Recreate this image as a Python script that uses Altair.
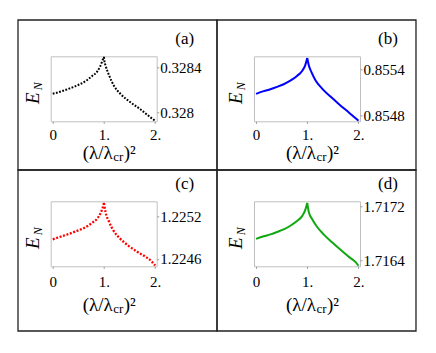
import altair as alt
import pandas as pd

# ---------------- data ----------------
# panel (a)
xa_left = [0, 0.16, 0.29, 0.42, 0.55, 0.68, 0.77, 0.87, 0.93, 0.98, 1.0]
ya_left = [0.328165, 0.328185, 0.328206, 0.328228, 0.328254, 0.328290, 0.328323, 0.328364, 0.328412, 0.328471, 0.328492]
xa_right = [1.0, 1.01, 1.03, 1.10, 1.19, 1.32, 1.51, 1.71, 1.90, 2.0]
ya_right = [0.328492, 0.328453, 0.328418, 0.328329, 0.328240, 0.328165, 0.328092, 0.328027, 0.327958, 0.327925]
a_ticks = [0.328, 0.3284]
a_domain = [0.32792, 0.328498]

# panel (b)
xb_left = [0, 0.15, 0.28, 0.41, 0.54, 0.67, 0.80, 0.90, 0.96, 1.0]
yb_left = [0.855078, 0.855113, 0.855139, 0.855169, 0.855204, 0.855251, 0.855313, 0.855378, 0.855452, 0.855547]
xb_right = [1.0, 1.03, 1.08, 1.16, 1.29, 1.46, 1.62, 1.78, 1.91, 2.0]
yb_right = [0.855547, 0.855452, 0.855365, 0.855257, 0.855147, 0.855039, 0.854943, 0.854852, 0.854778, 0.854725]
b_ticks = [0.8548, 0.8554]
b_domain = [0.854718, 0.85557]

# panel (c)
xc_left = [0, 0.16, 0.29, 0.42, 0.55, 0.68, 0.77, 0.87, 0.93, 0.97, 1.0]
yc_left = [1.224875, 1.224913, 1.224944, 1.224978, 1.225014, 1.225061, 1.225107, 1.225167, 1.225236, 1.225306, 1.225385]
xc_right = [1.0, 1.03, 1.10, 1.19, 1.32, 1.48, 1.64, 1.80, 1.93, 2.0]
yc_right = [1.225385, 1.225260, 1.225121, 1.224992, 1.224881, 1.224783, 1.224704, 1.224635, 1.224565, 1.224506]
c_ticks = [1.2246, 1.2252]
c_domain = [1.224496, 1.225408]

# panel (d)
xd_left = [0, 0.15, 0.28, 0.41, 0.54, 0.67, 0.80, 0.90, 0.96, 1.0]
yd_left = [1.716717, 1.716756, 1.716785, 1.716821, 1.716859, 1.716914, 1.716984, 1.717058, 1.717147, 1.717255]
xd_right = [1.0, 1.03, 1.10, 1.19, 1.32, 1.49, 1.65, 1.82, 1.95, 2.0]
yd_right = [1.717255, 1.717121, 1.717007, 1.716899, 1.716785, 1.716662, 1.716554, 1.716444, 1.716366, 1.716315]
d_ticks = [1.7164, 1.7172]
d_domain = [1.716307, 1.71728]

x_ticks = [0, 1, 2]
x_domain = [-0.04, 2.03]
panel_labels = ["(a)", "(b)", "(c)", "(d)"]

SERIF = "'Liberation Serif', 'Times New Roman', 'DejaVu Serif', serif"
W, H = 106, 65


def panel(xl, yl, xr, yr, dom, ticks, color, dash, sw, label, border, title_y, label_pad):
    df = pd.DataFrame({
        "x": xl + xr,
        "y": yl + yr,
        "branch": ["L"] * len(xl) + ["R"] * len(xr),
    })
    kw = dict(color=color, strokeWidth=sw, interpolate="monotone", strokeCap="butt")
    if dash:
        kw["strokeDash"] = dash
    line = alt.Chart(df).mark_line(**kw).encode(
        x=alt.X("x:Q",
                scale=alt.Scale(domain=x_domain, nice=False, zero=False),
                axis=alt.Axis(values=x_ticks,
                              labelExpr="datum.value == 0 ? '0' : datum.value + '.'",
                              title=None, grid=False, domain=False,
                              tickSize=2, tickColor="#999999",
                              labelFont=SERIF, labelFontSize=15, labelColor="black",
                              labelPadding=label_pad, labelFlush=False,
                              labelOverlap=False, labelBound=False)),
        y=alt.Y("y:Q",
                scale=alt.Scale(domain=dom, nice=False, zero=False),
                axis=alt.Axis(orient="right", values=ticks, format=".4~f",
                              title=None, grid=False, domain=False,
                              tickSize=2, tickColor="#999999",
                              labelFont=SERIF, labelFontSize=15, labelColor="black",
                              labelPadding=1, labelFlush=False,
                              labelOverlap=False, labelBound=False)),
        detail="branch:N",
    )
    one = pd.DataFrame({"k": [0]})
    base = alt.Chart(one)
    frame = base.mark_rect(fillOpacity=0, stroke="#222222", strokeWidth=1.3).encode(
        x=alt.value(border[0]), x2=alt.value(border[1]),
        y=alt.value(border[2]), y2=alt.value(border[3]))
    e_txt = base.mark_text(text="E", font=SERIF, fontStyle="italic", fontSize=19,
                           angle=270, align="center", baseline="middle",
                           color="black").encode(x=alt.value(-18), y=alt.value(42))
    n_txt = base.mark_text(text="N", font=SERIF, fontStyle="italic", fontSize=12,
                           angle=270, align="center", baseline="middle",
                           color="black").encode(x=alt.value(-12.5), y=alt.value(30))
    lab = base.mark_text(text=label, font=SERIF, fontSize=17, align="center",
                         baseline="middle", color="black").encode(
        x=alt.value(134), y=alt.value(-17))
    t1 = base.mark_text(text="(λ/λ", font=SERIF, fontSize=19, align="right",
                        baseline="middle", color="black").encode(
        x=alt.value(62), y=alt.value(title_y))
    t2 = base.mark_text(text="cr", font=SERIF, fontSize=13, align="left",
                        baseline="middle", color="black").encode(
        x=alt.value(62.5), y=alt.value(title_y + 4))
    t3 = base.mark_text(text=")²", font=SERIF, fontSize=19, align="left",
                        baseline="middle", color="black").encode(
        x=alt.value(73), y=alt.value(title_y))
    return alt.layer(frame, line, e_txt, n_txt, lab, t1, t2, t3).properties(width=W, height=H)


pa = panel(xa_left, ya_left, xa_right, ya_right, a_domain, a_ticks, "black",
           [1.8, 1.5], 2, panel_labels[0], (-32.7, 166.3, -36.3, 113.7), 97, 4)
pb = panel(xb_left, yb_left, xb_right, yb_right, b_domain, b_ticks, "#0000ff",
           None, 2, panel_labels[1], (-37, 162, -36.3, 113.7), 97, 4)
pc = panel(xc_left, yc_left, xc_right, yc_right, c_domain, c_ticks, "#ff0000",
           [2, 1.6], 2.3, panel_labels[2], (-32.7, 166.3, -31.3, 129.7), 104, 6)
pd_ = panel(xd_left, yd_left, xd_right, yd_right, d_domain, d_ticks, "#10a810",
            None, 2, panel_labels[3], (-37, 162, -31.3, 129.7), 104, 6)

chart = alt.concat(
    pa, pb, pc, pd_, columns=2,
    spacing={"row": 80, "column": 97.3},
    bounds="flush",
).properties(
    autosize=alt.AutoSizeParams(type="none"),
    padding={"left": 42.7, "top": 48.3, "right": 377, "bottom": 288},
    background="white",
).configure_view(stroke="#c0c0c0", strokeWidth=1)

chart.save("out.html", embed_options={"renderer": "svg", "actions": False})
